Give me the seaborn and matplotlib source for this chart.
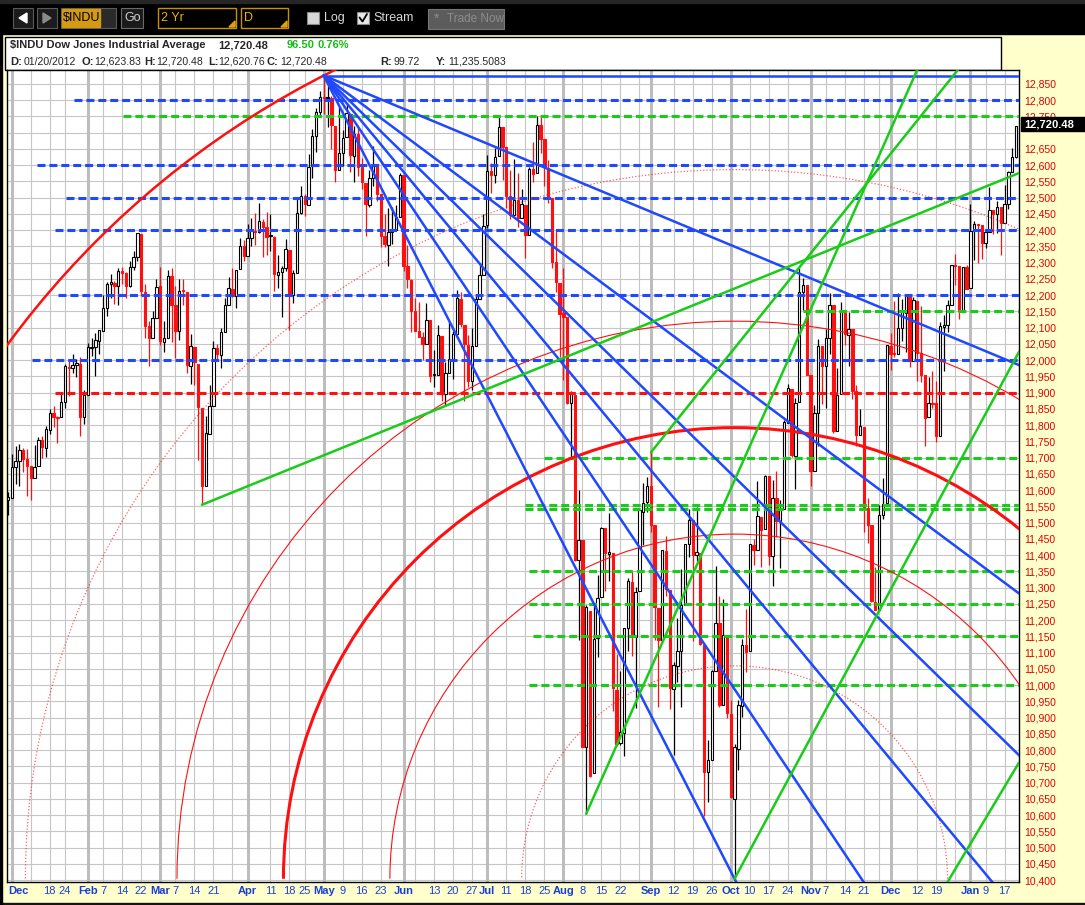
import numpy as np
import pandas as pd
import matplotlib
matplotlib.use("Agg")
import matplotlib.pyplot as plt
from matplotlib.patches import Arc, Rectangle, Polygon
import seaborn as sns

# $INDU daily candles, 31 Dec 2010 .. 20 Jan 2012 (one value per trading day, a line per month)
opens = [
    11569,
    11577, 11671, 11689, 11722, 11697, 11673, 11638, 11673, 11753, 11731, 11784, 11836, 11823, 11824, 11870, 11979, 11976, 11985, 11988, 11824,
    11893, 12038, 12040, 12060, 12091, 12160, 12233, 12239, 12227, 12273, 12268, 12228, 12287, 12318, 12389, 12211, 12105, 12069, 12131,
    12228, 12057, 12068, 12258, 12171, 12089, 12214, 12211, 11982, 12042, 11988, 11854, 11614, 11774, 11860, 12036, 12017, 12087, 12170, 12220, 12197, 12280, 12350,
    12321, 12376, 12399, 12394, 12426, 12409, 12381, 12380, 12263, 12270, 12285, 12340, 12202, 12267, 12453, 12505, 12479, 12597, 12690, 12764,
    12810, 12807, 12807, 12722, 12585, 12637, 12686, 12759, 12629, 12695, 12595, 12546, 12479, 12560, 12604, 12510, 12382, 12355, 12395, 12402, 12441,
    12569, 12290, 12246, 12150, 12091, 12070, 12049, 12124, 11953, 11954, 12075, 11896, 11962, 12004, 12081, 12189, 12109, 12048, 11935, 12044, 12189, 12262,
    12415, 12582, 12570, 12628, 12718, 12656, 12505, 12447, 12492, 12436, 12478, 12385, 12587, 12575, 12724, 12680, 12592, 12500, 12302, 12239,
    12144, 12132, 11867, 11894, 11384, 11445, 10810, 11229, 10730, 11144, 11270, 11482, 11404, 11405, 10985, 10822, 10854, 11176, 11316, 11149, 11290, 11534, 11562,
    11613, 11492, 11238, 11140, 11414, 11294, 10989, 11060, 11105, 11247, 11433, 11509, 11401, 11408, 11124, 10732, 10771, 11044, 11190, 10940, 11152,
    10912, 10650, 10802, 10936, 11123, 11104, 11432, 11417, 11516, 11479, 11643, 11396, 11576, 11504, 11542, 11808, 11911, 11706, 11870, 12209, 12230,
    11954, 11659, 11836, 12043, 11983, 12068, 12169, 11781, 11895, 12153, 12078, 12095, 11905, 11770, 11795, 11545, 11493, 11257, 11232, 11524, 11559,
    12045, 12020, 12019, 12098, 12146, 12195, 11998, 12182, 12021, 11953, 11825, 11868, 11867, 11768, 12103, 12107, 12170, 12292, 12291, 12151, 12286,
    12221, 12398, 12417, 12416, 12360, 12393, 12462, 12450, 12472, 12422, 12482, 12579, 12624,
]
highs = [
    11595,
    11711, 11736, 11742, 11729, 11726, 11674, 11738, 11763, 11767, 11797, 11851, 11860, 11829, 11897, 11989, 12003, 12020, 12005, 12010, 11908,
    12054, 12068, 12084, 12092, 12200, 12241, 12264, 12245, 12285, 12288, 12271, 12305, 12337, 12391, 12389, 12233, 12122, 12152, 12249,
    12287, 12121, 12276, 12283, 12229, 12251, 12250, 12211, 12081, 12042, 11988, 11854, 11829, 11925, 12058, 12049, 12098, 12190, 12255, 12283, 12279, 12376, 12369,
    12419, 12438, 12453, 12484, 12435, 12455, 12451, 12383, 12325, 12290, 12373, 12340, 12277, 12495, 12535, 12511, 12636, 12710, 12775, 12828,
    12876, 12845, 12813, 12722, 12778, 12709, 12789, 12759, 12722, 12716, 12621, 12546, 12585, 12658, 12604, 12510, 12450, 12467, 12471, 12476, 12575,
    12570, 12355, 12250, 12190, 12179, 12086, 12175, 12124, 12030, 12108, 12075, 11995, 12120, 12091, 12216, 12209, 12109, 12076, 12099, 12196, 12300, 12449,
    12632, 12608, 12652, 12753, 12718, 12656, 12584, 12620, 12577, 12526, 12478, 12595, 12671, 12751, 12750, 12680, 12617, 12500, 12400, 12239,
    12285, 12132, 11904, 11894, 11599, 11445, 11245, 11229, 11242, 11338, 11488, 11482, 11530, 11405, 11096, 11042, 11177, 11329, 11350, 11303, 11541, 11621, 11640,
    11716, 11492, 11238, 11415, 11460, 11294, 11072, 11208, 11356, 11434, 11543, 11509, 11548, 11408, 11124, 10830, 11045, 11366, 11273, 11266, 11152,
    10954, 10819, 10955, 11141, 11234, 11434, 11449, 11628, 11516, 11648, 11643, 11631, 11660, 11571, 11817, 11927, 11911, 11885, 12284, 12254, 12230,
    11954, 11861, 12065, 12043, 12097, 12208, 12169, 11977, 12178, 12153, 12148, 12095, 11923, 11851, 11795, 11577, 11493, 11362, 11555, 11638, 12046,
    12083, 12181, 12206, 12189, 12196, 12195, 12195, 12182, 12166, 11953, 11948, 11967, 11935, 12117, 12140, 12184, 12294, 12327, 12291, 12287, 12292,
    12480, 12428, 12417, 12417, 12404, 12533, 12462, 12490, 12472, 12540, 12581, 12653, 12720,
]
lows = [
    11524,
    11577, 11618, 11614, 11656, 11582, 11570, 11638, 11673, 11700, 11703, 11772, 11794, 11745, 11824, 11853, 11890, 11959, 11948, 11768, 11805,
    11893, 12013, 11950, 12020, 12091, 12136, 12190, 12172, 12171, 12233, 12192, 12226, 12277, 12306, 12199, 12067, 11983, 12069, 12131,
    12046, 12025, 12068, 12055, 12007, 12062, 12171, 11959, 11926, 11925, 11692, 11555, 11614, 11774, 11860, 12004, 11975, 12087, 12170, 12195, 12160, 12280, 12305,
    12321, 12351, 12355, 12392, 12317, 12325, 12337, 12212, 12223, 12134, 12275, 12093, 12176, 12267, 12450, 12444, 12479, 12560, 12642, 12755,
    12757, 12719, 12649, 12548, 12585, 12597, 12686, 12580, 12549, 12567, 12526, 12382, 12472, 12535, 12491, 12348, 12349, 12289, 12358, 12402, 12441,
    12275, 12221, 12088, 12089, 12071, 11999, 12049, 11933, 11916, 11954, 11875, 11862, 11962, 11941, 12080, 12102, 11875, 11918, 11908, 12044, 12189, 12262,
    12407, 12515, 12545, 12628, 12555, 12469, 12434, 12447, 12409, 12436, 12314, 12385, 12547, 12575, 12637, 12536, 12484, 12284, 12209, 12010,
    11939, 11864, 11700, 11383, 11140, 10810, 10604, 10716, 10730, 11085, 11270, 11289, 11321, 10919, 10813, 10816, 10783, 11106, 11091, 10929, 11290, 11430, 11532,
    11471, 11139, 10933, 11140, 11275, 10925, 10786, 11009, 10933, 11247, 11395, 11136, 11383, 11123, 10597, 10641, 10771, 11044, 10934, 10940, 10900,
    10652, 10404, 10740, 10903, 11040, 11104, 11371, 11417, 11364, 11479, 11370, 11306, 11455, 11361, 11542, 11808, 11701, 11603, 11870, 12154, 11955,
    11613, 11659, 11736, 11864, 11852, 12019, 11777, 11781, 11895, 12046, 11982, 11882, 11735, 11770, 11471, 11436, 11257, 11231, 11232, 11511, 11559,
    11970, 12011, 12019, 12060, 12025, 11980, 11998, 11936, 11932, 11735, 11825, 11854, 11749, 11768, 11968, 12086, 12170, 12230, 12126, 12151, 12218,
    12221, 12308, 12299, 12312, 12346, 12393, 12389, 12391, 12325, 12422, 12466, 12579, 12621,
]
closes = [
    11578,
    11671, 11691, 11723, 11697, 11675, 11637, 11672, 11755, 11732, 11787, 11838, 11825, 11823, 11872, 11981, 11977, 11985, 11990, 11824, 11892,
    12040, 12042, 12062, 12092, 12162, 12233, 12240, 12229, 12273, 12268, 12227, 12288, 12318, 12391, 12213, 12106, 12069, 12130, 12226,
    12058, 12067, 12258, 12170, 12090, 12214, 12213, 11985, 12044, 11993, 11855, 11613, 11775, 11859, 12037, 12019, 12086, 12171, 12221, 12198, 12279, 12351, 12320,
    12377, 12400, 12394, 12427, 12409, 12380, 12381, 12264, 12271, 12285, 12342, 12202, 12267, 12454, 12506, 12480, 12595, 12691, 12763, 12811,
    12807, 12808, 12724, 12584, 12639, 12685, 12760, 12630, 12696, 12596, 12548, 12480, 12560, 12605, 12512, 12381, 12356, 12395, 12403, 12442, 12570,
    12290, 12249, 12151, 12090, 12071, 12049, 12124, 11952, 11953, 12076, 11897, 11962, 12004, 12080, 12190, 12110, 12050, 11935, 12044, 12189, 12261, 12414,
    12583, 12570, 12626, 12719, 12657, 12506, 12447, 12492, 12437, 12480, 12385, 12587, 12572, 12724, 12681, 12593, 12501, 12303, 12240, 12143,
    12132, 11867, 11896, 11384, 11445, 10810, 11240, 10720, 11143, 11269, 11483, 11406, 11410, 10991, 10818, 10855, 11177, 11321, 11150, 11285, 11539, 11560, 11614,
    11494, 11240, 11139, 11415, 11296, 10992, 11061, 11106, 11247, 11433, 11509, 11401, 11409, 11125, 10734, 10771, 11044, 11191, 10938, 11154, 10913,
    10655, 10809, 10940, 11123, 11103, 11433, 11416, 11519, 11478, 11644, 11397, 11577, 11505, 11542, 11809, 11914, 11707, 11869, 12209, 12231, 11955,
    11658, 11836, 12044, 11983, 12068, 12170, 11781, 11894, 12154, 12079, 12096, 11906, 11771, 11796, 11547, 11494, 11258, 11232, 11523, 11556, 12046,
    12020, 12019, 12098, 12150, 12196, 11998, 12184, 12021, 11955, 11823, 11869, 11866, 11766, 12104, 12108, 12170, 12294, 12291, 12151, 12287, 12218,
    12397, 12418, 12416, 12360, 12393, 12462, 12449, 12471, 12422, 12482, 12579, 12624, 12720,
]
last_price = 12720.48

# x axis: trading-day index of each label / grid line
label_pos = [0, 11, 15, 21, 25, 30, 35, 40, 44, 49, 54, 63, 69, 74, 78, 83, 88, 93, 98, 104, 112, 117, 122,
             126, 131, 136, 141, 146, 151, 156, 161, 169, 175, 180, 185, 190, 195, 200, 205, 211, 215, 220,
             225, 232, 239, 244, 253, 257, 262]
label_txt = ['Dec', '18', '24', 'Feb', '7', '14', '22', 'Mar', '7', '14', '21', 'Apr', '11', '18', '25', 'May',
             '9', '16', '23', 'Jun', '13', '20', '27', 'Jul', '11', '18', '25', 'Aug', '8', '15', '22', 'Sep',
             '12', '19', '26', 'Oct', '10', '17', '24', 'Nov', '7', '14', '21', 'Dec', '12', '19', 'Jan', '9', '17']
month_lines = [1, 21, 40, 63, 83, 104, 126, 146, 169, 190, 211, 232, 253]
week_lines = [6, 11, 15, 25, 30, 35, 44, 49, 54, 59, 69, 74, 78, 88, 93, 98, 107, 112, 117, 122, 131, 136, 141,
              151, 156, 161, 166, 175, 180, 185, 195, 200, 205, 215, 220, 225, 229, 239, 244, 249, 257, 262]
price_ticks = list(range(10400, 12851, 50))

# Fibonacci fan / arcs: May 2 high and Oct 4 low
high_idx, high_price = 83, 12876
low_idx, low_price = 191, 10404
fan_levels = [0.0, 0.213, 0.381, 0.5, 0.617, 0.764, 1.0]
arc_levels = [1.0, 0.786, 0.618, 0.5, 0.382, 0.236]
arc_widths = [1.8, 0.9, 0.8, 2.2, 0.8, 0.9]
arc_dotted = [False, True, False, False, False, True]

# horizontal support / resistance lines (price, first trading-day index)
blue_levels = [12800, 12600, 12500, 12400, 12200, 12000]
blue_starts = [17.3, 7.5, 15.2, 12.4, 13.2, 6.4]
red_levels = [11900]
red_starts = [12.4]
green_levels = [12750, 12150, 11700, 11553, 11542, 11350, 11250, 11150, 11000]
green_starts = [30.3, 209, 141, 136, 136, 137, 137, 138, 137]

# green trend lines (start idx, start price, end idx, end price)
trend_x0 = [51, 152, 191, 247, 169]
trend_p0 = [11555, 10604, 10404, 10394, 11716]
trend_x1 = [265.8, 239.5, 265.8, 265.8, 249.7]
trend_p1 = [12576, 12906, 12026, 10762, 12893]

BLUE = '#1f48ff'
GREEN = '#19cc19'
RED = '#ff1010'
W, H = 1085, 905
AX_L, AX_T, AX_W, AX_H = 7, 70, 1012, 812
XMIN, XMAX = -0.26, 265.78
YMIN, YMAX = 10394, 12893

sns.set_style("white")
plt.rcParams['font.family'] = ['Liberation Sans', 'DejaVu Sans']

fig = plt.figure(figsize=(W / 100, H / 100), dpi=100, facecolor='#FFFFCC')

# ---- background chrome (pixel coordinates) ----
bg = fig.add_axes([0, 0, 1, 1], zorder=-1)
bg.set_xlim(0, W)
bg.set_ylim(H, 0)
bg.axis('off')
bg.add_patch(Rectangle((0, 0), W, 34, color='black'))
bg.add_patch(Rectangle((0, 0), W, 3, color='#262626'))
bg.add_patch(Rectangle((0, 903), W, 2, color='#151520'))
bg.add_patch(Rectangle((0, 34), 2, 870, color='black'))
# nav buttons
for x0 in (13, 37):
    bg.add_patch(Rectangle((x0, 8), 20, 20, facecolor='#1b1b1b', edgecolor='#5a5a5a', lw=0.8))
bg.add_patch(Polygon([(19, 18), (27, 13), (27, 23)], color='white'))
bg.add_patch(Polygon([(51, 18), (43, 13), (43, 23)], color='#8a8a8a'))
bg.add_patch(Rectangle((61, 8), 55, 20, facecolor='#2a2a2a', edgecolor='#5a5a5a', lw=0.8))
bg.add_patch(Rectangle((62, 9), 38, 18, color='#d49a12'))
bg.text(63, 18, '$INDU', fontsize=9, color='black', va='center')
bg.add_patch(Rectangle((121, 8), 22, 20, facecolor='#1b1b1b', edgecolor='#6a6a6a', lw=0.8))
bg.text(124.5, 18, 'Go', fontsize=9, color='#cfcfcf', va='center')
for x0, wd, txt in ((158, 78, '2 Yr'), (241, 47, 'D')):
    bg.add_patch(Rectangle((x0, 8), wd, 20, facecolor='black', edgecolor='#c8900a', lw=1.0))
    bg.add_patch(Polygon([(x0 + wd - 1, 27), (x0 + wd - 7, 27), (x0 + wd - 1, 21)], color='#e0a010'))
    bg.text(x0 + 3, 18, txt, fontsize=9, color='#f0b400', va='center')
bg.add_patch(Rectangle((307, 12), 12, 12, facecolor='#d8d8d8', edgecolor='#888888', lw=0.8))
bg.text(324, 18, 'Log', fontsize=9, color='#d8d8d8', va='center')
bg.add_patch(Rectangle((357, 12), 12, 12, facecolor='#e8e8e8', edgecolor='#888888', lw=0.8))
bg.plot([359.5, 362.5, 367], [17.5, 21.5, 14], color='black', lw=1.3)
bg.text(373, 18, 'Stream', fontsize=9, color='#d8d8d8', va='center')
bg.add_patch(Rectangle((428, 9), 76, 20, facecolor='#5c5c5c', edgecolor='#777777', lw=0.8))
bg.text(447, 19, 'Trade Now', fontsize=8.5, color='#8c8c8c', va='center')
bg.text(437, 19, '*', fontsize=10, color='#8c8c8c', va='center', ha='center')
# title box
bg.add_patch(Rectangle((5, 37), 996, 33, facecolor='white', edgecolor='black', lw=1.0))
bg.text(10, 45.5, '$INDU Dow Jones Industrial Average', fontsize=8, weight='bold', va='center')
bg.text(218, 45.5, f'{last_price:,.2f}', fontsize=8, weight='bold', va='center')
bg.text(287, 45.5, '96.50', fontsize=8, weight='bold', color='#10c010', va='center')
bg.text(317, 45.5, '0.76%', fontsize=8, weight='bold', color='#10c010', va='center')
for lx, vx, lab, val in ((10, 23.5, 'D:', '01/20/2012'), (81.5, 94.5, 'O:', '12,623.83'),
                         (144, 156.5, 'H:', '12,720.48'), (208, 218.5, 'L:', '12,620.76'),
                         (266.5, 280, 'C:', '12,720.48'), (380, 393, 'R:', '99.72'),
                         (436, 448.5, 'Y:', '11,235.5083')):
    bg.text(lx, 62, lab, fontsize=8, weight='bold', va='center')
    bg.text(vx, 62, val, fontsize=7.6, va='center')

# ---- main price chart ----
ax = fig.add_axes([AX_L / W, (H - AX_T - AX_H) / H, AX_W / W, AX_H / H])
ax.set_facecolor('white')
ax.set_xlim(XMIN, XMAX)
ax.set_ylim(YMIN, YMAX)

for p in price_ticks:
    ax.axhline(p, color='#c6c6c6', lw=0.8, zorder=0.5)
for d in week_lines:
    ax.axvline(d, color='#c6c6c6', lw=0.8, zorder=0.5)
for d in month_lines:
    ax.axvline(d, color='#bdbdbd', lw=2.2, zorder=0.6)

candles = pd.DataFrame({'o': opens, 'h': highs, 'l': lows, 'c': closes})
assert len(candles) == 266
candles['x'] = np.arange(len(candles))
prev_close = candles['c'].shift(1).fillna(candles['o'])
edge = np.where(candles['c'] < prev_close, RED, 'black')
face = np.where(candles['c'] < candles['o'], edge, 'white')
ax.vlines(candles['x'], candles['l'], candles['h'], colors=edge, lw=0.9, zorder=2.5)
body = (candles['c'] - candles['o']).abs().clip(lower=3)
ax.bar(candles['x'], body, bottom=candles[['o', 'c']].min(axis=1), width=0.62,
       color=face, edgecolor=edge, lw=0.8, zorder=3)

# horizontal dashed levels
for levels, starts, col in ((blue_levels, blue_starts, BLUE), (red_levels, red_starts, RED),
                            (green_levels, green_starts, GREEN)):
    for lv, st in zip(levels, starts):
        ax.plot([st, XMAX], [lv, lv], color=col, lw=2.2, dashes=(2.6, 1.3), zorder=4,
                solid_capstyle='butt')

# fan lines from the May high
slope = (high_price - low_price) / (low_idx - high_idx)
fan = pd.DataFrame([(r, x, high_price - r * slope * (x - high_idx))
                    for r in fan_levels for x in (high_idx, XMAX + 1)], columns=['level', 'x', 'y'])
sns.lineplot(data=fan, x='x', y='y', units='level', estimator=None, sort=False,
             color=BLUE, lw=1.8, ax=ax, zorder=5, legend=False)

# green trend lines
trend = pd.DataFrame({'line': np.repeat(np.arange(len(trend_x0)), 2),
                      'x': np.ravel(list(zip(trend_x0, trend_x1))),
                      'y': np.ravel(list(zip(trend_p0, trend_p1)))})
sns.lineplot(data=trend, x='x', y='y', units='line', estimator=None, sort=False,
             color=GREEN, lw=1.8, ax=ax, zorder=5, legend=False)

# Fibonacci arcs centred on the October low (circles in screen space)
ppd = AX_W / (XMAX - XMIN)
ppp = AX_H / (YMAX - YMIN)
radius = np.hypot((high_idx - low_idx) * ppd, (high_price - low_price) * ppp)
for lvl, lw, dotted in zip(arc_levels, arc_widths, arc_dotted):
    ax.add_patch(Arc((low_idx, low_price), 2 * lvl * radius / ppd, 2 * lvl * radius / ppp,
                     theta1=0, theta2=180, color=RED, lw=lw, zorder=4.5,
                     linestyle=(0, (1, 1.6)) if dotted else '-', alpha=0.65 if dotted else 1.0))

ax.set_xlabel('')
ax.set_ylabel('')
ax.yaxis.tick_right()
ax.set_yticks(price_ticks)
# the 12,700 label sits under the last-price tag, as on the original chart
ax.set_yticklabels(['' if p == 12700 else f'{p:,}' for p in price_ticks])
ax.tick_params(axis='y', length=0, pad=4, labelsize=7.5, labelcolor='#e00000')
ax.set_xticks(label_pos)
ax.set_xticklabels(label_txt)
ax.tick_params(axis='x', length=0, pad=3, labelsize=8, labelcolor='#1a3fd6')
for t, s in zip(ax.get_xticklabels(), label_txt):
    if s.isalpha():
        t.set_fontweight('bold')
ax.get_xticklabels()[0].set_horizontalalignment('left')
for sp in ax.spines.values():
    sp.set_color('black')
    sp.set_linewidth(1.0)

# last-price tag on the price scale
fg = fig.add_axes([0, 0, 1, 1], zorder=5)
fg.set_xlim(0, W)
fg.set_ylim(H, 0)
fg.axis('off')
tag_y = AX_T + (YMAX - last_price) * ppp - 2
fg.add_patch(Rectangle((1021, tag_y - 7), 64, 14, color='black'))
fg.text(1024, tag_y, f'{last_price:,.2f}', fontsize=8, weight='bold', color='white', va='center')

fig.savefig('out.png', dpi=100, facecolor=fig.get_facecolor())
